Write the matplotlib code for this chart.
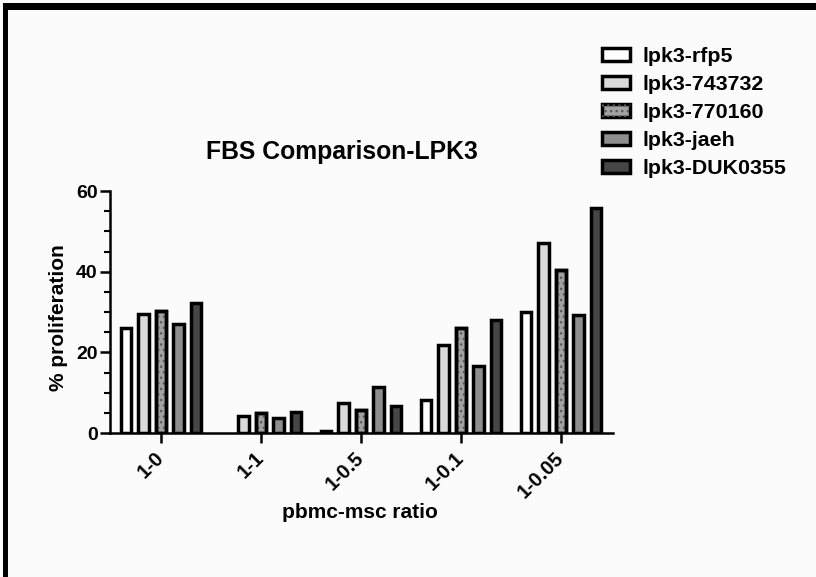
import numpy as np
import matplotlib
matplotlib.use("Agg")
import matplotlib.pyplot as plt
from matplotlib.patches import Rectangle
from matplotlib.ticker import MultipleLocator
from matplotlib.legend_handler import HandlerTuple

plt.rcParams['font.family'] = ['Liberation Sans', 'DejaVu Sans']
plt.rcParams['font.weight'] = 'bold'
plt.rcParams['hatch.linewidth'] = 1.0

categories = ["1-0", "1-1", "1-0.5", "1-0.1", "1-0.05"]
series_names = ["lpk3-rfp5", "lpk3-743732", "lpk3-770160", "lpk3-jaeh", "lpk3-DUK0355"]
rfp5 = [26.0, np.nan, 0.5, 8.1, 29.9]
v743732 = [29.5, 4.2, 7.4, 21.7, 47.2]
v770160 = [30.3, 4.9, 5.8, 26.0, 40.5]
jaeh = [27.0, 3.7, 11.3, 16.6, 29.3]
duk0355 = [32.3, 5.3, 6.7, 28.0, 55.8]
series_values = [rfp5, v743732, v770160, jaeh, duk0355]
face_colors = ["#ffffff", "#d9d9d9", "#a2a2a2", "#8e8e8e", "#464646"]
hatches = [None, None, "...", None, None]

W, H = 816, 577
fig = plt.figure(figsize=(W / 100, H / 100), dpi=100)
fig.patch.set_facecolor("#fbfbfb")

ax = fig.add_axes([110 / W, 1 - 433 / H, 503 / W, 242 / H])
ax.set_facecolor("none")

x = np.arange(len(categories))
pitch = 0.176
bw = 0.103
lw = 2.5
handles = []
for i, (name, vals, fc, hp) in enumerate(zip(series_names, series_values, face_colors, hatches)):
    pos = x + (i - 2) * pitch
    bars = ax.bar(pos, vals, width=bw, color=fc, edgecolor="black", linewidth=lw, zorder=2)
    if hp:
        hb = ax.bar(pos, vals, width=bw, color="none", edgecolor="#5a5a5a", hatch=hp,
                    linewidth=0, zorder=3)
        ax.bar(pos, vals, width=bw, color="none", edgecolor="black", linewidth=lw, zorder=4)
        handles.append((bars[0], hb[0]))
    else:
        handles.append(bars[0])

ax.set_xlim(-0.51, 4.52)
ax.set_ylim(0, 60)
ax.spines[['top', 'right']].set_visible(False)
for s in ['left', 'bottom']:
    ax.spines[s].set_linewidth(1.8)
ax.yaxis.set_major_locator(MultipleLocator(20))
ax.yaxis.set_minor_locator(MultipleLocator(5))
ax.tick_params(axis='y', which='major', length=7, width=1.8, labelsize=14, pad=2)
ax.tick_params(axis='y', which='minor', length=4, width=1.5)
ax.set_xticks(x)
ax.set_xticklabels(categories, rotation=45, ha='right', va='center', rotation_mode='anchor')
ax.tick_params(axis='x', which='major', length=7, width=1.8, labelsize=14.3, pad=9)
for lab in ax.get_xticklabels() + ax.get_yticklabels():
    lab.set_fontweight('bold')

ax.set_ylabel("% proliferation", fontsize=15, fontweight='bold')
ax.yaxis.set_label_coords(-0.083, 0.475)
ax.set_xlabel("pbmc-msc ratio", fontsize=15, fontweight='bold')
ax.xaxis.set_label_coords(0.497, -0.29)

fig.text(342 / W, 1 - 152 / H, "FBS Comparison-LPK3", fontsize=17.8, fontweight='bold',
         ha='center', va='center')

leg = fig.legend(handles, series_names, loc='upper left', bbox_to_anchor=(602 / W, 1 - 47 / H),
                 frameon=False, fontsize=15.4, handlelength=1.3, handleheight=0.58,
                 handletextpad=0.6, labelspacing=0.42, borderpad=0, borderaxespad=0,
                 handler_map={tuple: HandlerTuple(ndivide=1)})

# figure frame bands (top and left)
fig.patches.append(Rectangle((3 / W, 1 - 10 / H), 1, 7 / H, transform=fig.transFigure,
                             facecolor="black", edgecolor="none"))
fig.patches.append(Rectangle((3 / W, 0), 5 / W, 1 - 3 / H, transform=fig.transFigure,
                             facecolor="black", edgecolor="none"))

fig.savefig("out.png", dpi=100, facecolor=fig.get_facecolor())
